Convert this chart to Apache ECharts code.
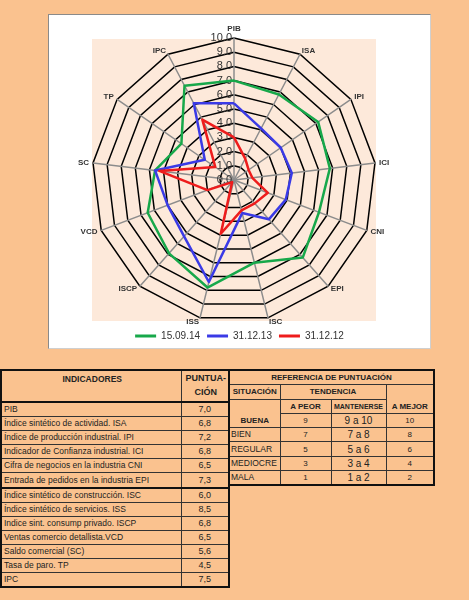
<!DOCTYPE html>
<html>
<head>
<meta charset="utf-8">
<script src="https://cdn.jsdelivr.net/npm/echarts@6/dist/echarts.min.js"></script>
<style>
  body { margin: 0; width: 469px; height: 600px; background: #fac28f; position: relative; overflow: hidden;
         font-family: 'Liberation Sans', Arial, sans-serif; color: #222; }
  #box { position: absolute; left: 48px; top: 14px; width: 381px; height: 333px; background: #fff;
         border: 1px solid #8a8a8a; border-right-color: #cfcfcf; border-bottom-color: #cfcfcf; }
  #plotbg { position: absolute; left: 43px; top: 24px; width: 284px; height: 282px; background: #fde9da; }
  #chart { position: absolute; left: 0; top: 0; width: 381px; height: 333px; }
  table { position: absolute; border-collapse: collapse; table-layout: fixed; border: 2px solid #111; }
  td { border: 1px solid #333; padding: 0; white-space: nowrap; overflow: hidden; }
  #t1 { left: 0; top: 369px; width: 228px; font-size: 8.5px; }
  #t1 td { height: 13.1px; line-height: 13px; padding-left: 2px; }
  #t1 td.v { text-align: center; padding: 0; font-size: 9px; }
  #t1 tr.hd td { height: 28px; vertical-align: top; font-weight: bold; text-align: center; border-bottom: 2px solid #111; }
  #t1 tr.sep td { border-bottom: 2px solid #111; }
  #t2 { left: 228px; top: 369px; width: 205px; font-size: 8px; }
  #t2 td { height: 13.3px; line-height: 13px; text-align: center; }
  #t2 .b { font-weight: bold; }
  #t2 .bot { vertical-align: bottom; }
  #t2 .lft { text-align: left; padding-left: 1px; font-size: 8.5px; }
  #t2 .sm { font-size: 7px; }
  #t2 .md { font-size: 10px; }
</style>
</head>
<body>
<div id="box">
  <div id="plotbg"></div>
  <div id="chart"></div>
</div>
<table id="t1"></table>
<table id="t2"></table>
<script>
// clockwise from the top, as in the picture
const axisNames = ['PIB', 'ISA', 'IPI', 'ICI', 'CNI', 'EPI', 'ISC', 'ISS', 'ISCP', 'VCD', 'SC', 'TP', 'IPC']
const serie150914 = [7.0, 6.8, 7.2, 6.8, 6.4, 7.3, 6.0, 7.8, 6.9, 6.5, 5.6, 4.5, 7.5]
const serie311213 = [5.4, 4.1, 4.0, 4.1, 3.9, 3.7, 2.4, 7.4, 5.3, 5.0, 5.6, 2.5, 6.1]
const serie311212 = [3.0, 1.7, 1.25, 1.3, 2.55, 2.2, 2.2, 3.9, 0.2, 2.0, 5.3, 1.6, 4.8]
const seriesNames = ['15.09.14', '31.12.13', '31.12.12']
const colors = ['#17a84a', '#3a3ae6', '#ee1c1c']

// table data
const indicadores = [
  'PIB',
  'Índice sintético de actividad. ISA',
  'Índice de producción industrial. IPI',
  'Indicador de Confianza industrial. ICI',
  'Cifra de negocios en la industria CNI',
  'Entrada de pedidos en la industria EPI',
  'Índice sintético de construcción. ISC',
  'Índice sintético de servicios. ISS',
  'Indice sint. consump privado. ISCP',
  'Ventas comercio detallista.VCD',
  'Saldo comercial (SC)',
  'Tasa de paro. TP',
  'IPC'
]
const puntuacion = ['7,0', '6,8', '7,2', '6,8', '6,5', '7,3', '6,0', '8,5', '6,8', '6,5', '5,6', '4,5', '7,5']
const situaciones = ['BUENA', 'BIEN', 'REGULAR', 'MEDIOCRE', 'MALA']
const aPeor = ['9', '7', '5', '3', '1']
const mantenerse = ['9 a 10', '7 a 8', '5 a 6', '3 a 4', '1 a 2']
const aMejor = ['10', '8', '6', '4', '2']

// echarts radar runs counter-clockwise, so walk the axes backwards
const order = [0, 12, 11, 10, 9, 8, 7, 6, 5, 4, 3, 2, 1]
const indicator = order.map((i, k) => {
  const ind = { name: axisNames[i], min: 0, max: 10 }
  if (k === 0) {
    ind.axisLabel = {
      show: true,
      color: '#333',
      fontSize: 11,
      margin: 2,
      formatter: (v) => v.toFixed(1)
    }
  }
  return ind
})
const allSeries = [serie150914, serie311213, serie311212]

const chart = echarts.init(document.getElementById('chart'))
chart.setOption({
  animation: false,
  legend: {
    bottom: 2,
    left: 'center',
    icon: 'rect',
    itemWidth: 21,
    itemHeight: 3,
    itemGap: 7,
    textStyle: { color: '#333', fontSize: 10, fontFamily: 'Liberation Sans' },
    data: seriesNames
  },
  radar: {
    center: [185, 165],
    radius: 142,
    startAngle: 90,
    splitNumber: 10,
    shape: 'polygon',
    indicator: indicator,
    axisName: { color: '#333', fontSize: 8, fontWeight: 'bold', fontFamily: 'Liberation Sans' },
    nameGap: 4,
    axisLabel: { show: false },
    splitLine: { lineStyle: { color: '#000', width: 1.5 } },
    splitArea: { show: false },
    axisLine: { lineStyle: { color: '#8c8c8c', width: 1.5 } }
  },
  series: [{
    type: 'radar',
    symbol: 'none',
    data: allSeries.map((s, i) => ({
      name: seriesNames[i],
      value: order.map((k) => s[k]),
      lineStyle: { color: colors[i], width: 2.5 },
      itemStyle: { color: colors[i] }
    }))
  }]
})

// left table
let h1 = '<colgroup><col style="width:180px"><col style="width:48px"></colgroup>'
h1 += '<tr class="hd"><td style="padding-top:2px">INDICADORES</td><td style="font-size:9px;line-height:14px;padding-top:0">PUNTUA-<br>CIÓN</td></tr>'
indicadores.forEach((name, i) => {
  h1 += '<tr' + (i === 5 ? ' class="sep"' : '') + '><td>' + name + '</td><td class="v">' + puntuacion[i] + '</td></tr>'
})
document.getElementById('t1').innerHTML = h1

// right table
let h2 = '<colgroup><col style="width:51px"><col style="width:51px"><col style="width:55px"><col style="width:48px"></colgroup>'
h2 += '<tr><td colspan="4" class="b">REFERENCIA DE PUNTUACIÓN</td></tr>'
h2 += '<tr><td class="b">SITUACIÓN</td><td colspan="2" class="b">TENDENCIA</td><td rowspan="2" class="b bot">A MEJOR</td></tr>'
h2 += '<tr><td rowspan="2" class="b bot" style="border-top:1px solid #333">' + situaciones[0] + '</td><td class="b">A PEOR</td><td class="b sm">MANTENERSE</td></tr>'
h2 += '<tr><td>' + aPeor[0] + '</td><td class="md">' + mantenerse[0] + '</td><td>' + aMejor[0] + '</td></tr>'
for (let i = 1; i < situaciones.length; i++) {
  h2 += '<tr><td class="lft">' + situaciones[i] + '</td><td>' + aPeor[i] + '</td><td class="md">' + mantenerse[i] + '</td><td>' + aMejor[i] + '</td></tr>'
}
document.getElementById('t2').innerHTML = h2
</script>
</body>
</html>
